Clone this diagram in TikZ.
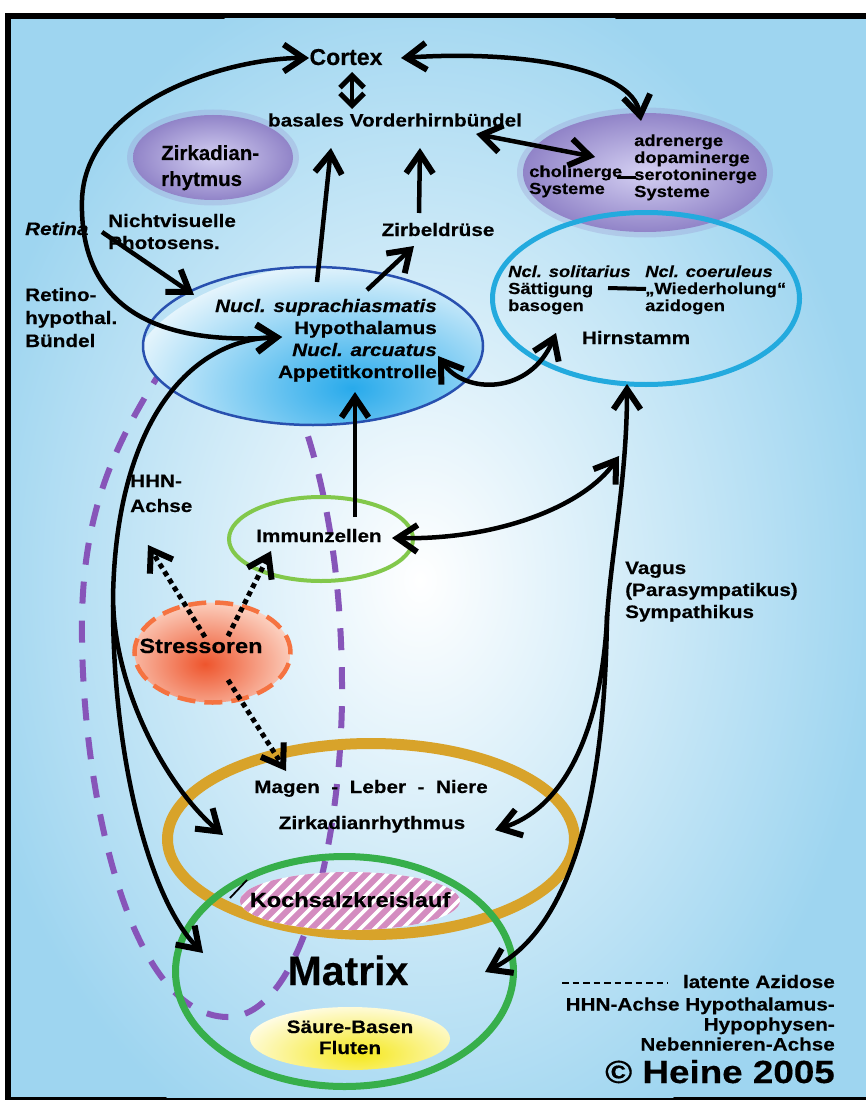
\documentclass[tikz,border=0pt]{standalone}
\usepackage{fontspec}
\setmainfont{Liberation Sans}
\newfontfamily\fw[FakeStretch=1.15,FakeBold=0.35]{Liberation Sans}
\newfontfamily\fn[FakeBold=0.35]{Liberation Sans}
\usetikzlibrary{arrows.meta,shapes.geometric}
\definecolor{bgblue}{RGB}{158,213,240}
\definecolor{zin}{RGB}{212,208,242}
\definecolor{zout}{RGB}{145,132,200}
\definecolor{scnin}{RGB}{40,170,235}
\definecolor{scnout}{RGB}{228,244,252}
\definecolor{scnline}{RGB}{40,80,175}
\definecolor{hirncol}{RGB}{35,170,222}
\definecolor{immcol}{RGB}{130,200,75}
\definecolor{stin}{RGB}{238,85,45}
\definecolor{stout}{RGB}{253,222,208}
\definecolor{stline}{RGB}{245,115,65}
\definecolor{goldcol}{RGB}{216,163,42}
\definecolor{matcol}{RGB}{55,175,75}
\definecolor{kstripe}{RGB}{212,140,192}
\definecolor{yin}{RGB}{245,232,30}
\definecolor{yout}{RGB}{255,252,228}
\definecolor{azcol}{RGB}{135,85,185}
\newcommand\lines[2][l]{\begin{tabular}[t]{@{}#1@{}}#2\end{tabular}}
\begin{document}
\begin{tikzpicture}[x=1pt,y=-1pt,
  bh/.tip={Straight Barb[length=20pt,width=27pt,line width=6pt]},
  sbh/.tip={Straight Barb[length=12pt,width=24pt,line width=5pt]},
  conn/.style={line width=4.5pt, draw=black},
  one/.style={conn, -bh},
  two/.style={conn, bh-bh},
  dotarr/.style={line width=5pt, draw=black, dash pattern=on 5pt off 4pt, -bh},
  lbl/.style={inner sep=0pt, font=\fw\bfseries\fontsize{18}{22}\selectfont},
  sml/.style={inner sep=0pt, font=\fw\bfseries\fontsize{16}{17}\selectfont},
  blob/.style={ellipse, inner sep=0pt, outer sep=0pt},
  azid/.style={draw=azcol, line width=6pt, dash pattern=on 22pt off 17pt}
]
\useasboundingbox (0,0) rectangle (866,1102);
% background and frame
\fill[white] (0,0) rectangle (866,1102);
\fill[black] (5,13) rectangle (866,1100);
\fill[bgblue] (11,19) rectangle (866,1097);
\begin{scope}
  \clip (11,19) rectangle (866,1097);
  \shade[inner color=white, outer color=bgblue] (420,580) ellipse [x radius=460pt, y radius=620pt];
\end{scope}

% purple blobs (soft halo + body)
\fill[zout, opacity=0.25] (213,157.5) ellipse [x radius=86pt, y radius=48pt];
\node[blob, minimum width=160pt, minimum height=85pt, shade, inner color=zin, outer color=zout] (zirkblob) at (213,157.5) {};
\fill[zout, opacity=0.25] (645,172.5) ellipse [x radius=128pt, y radius=65pt];
\node[blob, minimum width=244pt, minimum height=119pt, shade, inner color=zin, outer color=zout] (sysblob) at (645,172.5) {};

% latent acidosis (dashed loop)
\coordinate (az1) at (165,365);
\coordinate (az2) at (302,418);
\draw[azid] (az1) .. controls (110,450) and (80,520) .. (82,640)
  .. controls (84,800) and (130,1015) .. (227,1017)
  .. controls (300,1018) and (340,850) .. (342,700)
  .. controls (343,560) and (320,470) .. (az2);

% hypothalamus ellipse
\begin{scope}
  \clip (313,346) ellipse [x radius=170pt, y radius=79pt];
  \shade[inner color=scnin, outer color=scnout] (352,388) ellipse [x radius=225pt, y radius=125pt];
\end{scope}
\node[blob, minimum width=340pt, minimum height=158pt, draw=scnline, line width=2.5pt] (scn) at (313,346) {};

% Hirnstamm
\node[blob, minimum width=307pt, minimum height=172pt, draw=hirncol, line width=5pt] (hirn) at (646,298.5) {};
% Immunzellen
\node[blob, minimum width=184pt, minimum height=84pt, draw=immcol, line width=4pt] (imm) at (321,539) {};
% Stressoren
\begin{scope}
  \clip (212.5,652.5) ellipse [x radius=78pt, y radius=50pt];
  \shade[inner color=stin, outer color=stout] (205,664) ellipse [x radius=100pt, y radius=70pt];
\end{scope}
\node[blob, minimum width=156pt, minimum height=100pt, draw=stline, line width=4.5pt, dash pattern=on 18pt off 9pt] (stress) at (212.5,652.5) {};

% Magen ring and Matrix ring
\node[blob, minimum width=407pt, minimum height=191pt, draw=goldcol, line width=11pt] (magen) at (371,839) {};
\node[blob, minimum width=338pt, minimum height=230pt, draw=matcol, line width=7pt] (matrixring) at (344.5,971.5) {};

% Kochsalz hatched
\begin{scope}
  \clip (350,901) ellipse [x radius=110pt, y radius=29pt];
  \fill[white] (230,860) rectangle (470,940);
  \foreach \k in {0,...,26} \draw[kstripe, line width=6pt] (160+\k*14, 940) -- ++(80pt,80pt);
\end{scope}
\node[blob, minimum width=220pt, minimum height=58pt] (koch) at (350,901) {};

% Saeure-Basen
\begin{scope}
  \clip (350,1038.5) ellipse [x radius=100pt, y radius=31.5pt];
  \shade[inner color=yin, outer color=yout] (360,1054) ellipse [x radius=125pt, y radius=50pt];
\end{scope}
\node[blob, minimum width=200pt, minimum height=63pt] (saeure) at (350,1038.5) {};

% small bars and tick
\coordinate (cholE) at (617,178); \coordinate (seroW) at (636,178);
\draw[line width=3pt] (cholE) -- (seroW);
\coordinate (saetE) at (608,288); \coordinate (wiedW) at (646,289);
\draw[line width=4pt] (saetE) -- (wiedW);
\coordinate (tickA) at (230,898); \coordinate (tickB) at (247,880);
\draw[line width=1.8pt] (tickA) -- (tickB);
\coordinate (lgA) at (562,983); \coordinate (lgB) at (668,983);
\draw[line width=2.8pt, dash pattern=on 6.5pt off 4pt] (lgA) -- (lgB);

% ---------- connectors ----------
\coordinate (cxL) at (309,58);
\coordinate (cxR) at (401,58);
\coordinate (cxB) at (352,72);
\coordinate (bvbT) at (352,109);
\coordinate (bvbR) at (476,134);
\coordinate (sysT) at (641,121);
\coordinate (sysW) at (595,157);
\coordinate (bvbB1) at (331,148);
\coordinate (bvbB2) at (420,148);
\coordinate (scnN1) at (317,282);
\coordinate (scnN2) at (367,290);
\coordinate (zirbN) at (419,213);
\coordinate (zirbS) at (414,246);
\coordinate (retR) at (102,232);
\coordinate (scnNW) at (194,295);
\coordinate (scnW) at (282,337);
\coordinate (scnS) at (355,392);
\coordinate (scnE) at (438,356);
\coordinate (immN) at (355,517);
\coordinate (immE) at (392,538);
\coordinate (hirnSW) at (619,456);
\coordinate (hirnS) at (627,384);
\coordinate (hirnW) at (556,333);
\coordinate (magW) at (223,835);
\coordinate (magE) at (495,830);
\coordinate (magN) at (286,771);
\coordinate (matW) at (203,953);
\coordinate (matE) at (485,972);
\coordinate (split1) at (113,605);
\coordinate (split2) at (607,615);
\coordinate (stS1) at (205,637);
\coordinate (stS2) at (228,636);
\coordinate (stS3) at (228,680);
\coordinate (hhnS) at (148,545);
\coordinate (immSW) at (271,551);

\draw[two] (cxL) .. controls (230,58) and (85,100) .. (82,200) .. controls (79,310) and (160,345) .. (scnW);
\draw[two] (cxR) .. controls (520,50) and (632,68) .. (sysT);
\draw[conn, line width=4pt, sbh-sbh] (cxB) -- (bvbT);
\draw[two] (bvbR) -- (sysW);
\draw[one] (scnN1) -- (bvbB1);
\draw[one] (zirbN) -- (bvbB2);
\draw[one] (scnN2) -- (zirbS);
\draw[two] (scnW) .. controls (185,340) and (115,430) .. (113,600) .. controls (115,690) and (165,785) .. (magW);
\draw[one] (split1) .. controls (113,760) and (150,900) .. (matW);
\draw[one] (immN) -- (scnS);
\draw[two] (immE) .. controls (500,540) and (585,505) .. (hirnSW);
\draw[two] (hirnS) .. controls (627,480) and (610,560) .. (607,620) .. controls (600,740) and (560,810) .. (magE);
\draw[one] (split2) .. controls (605,800) and (570,930) .. (matE);
\draw[two] (scnE) .. controls (465,395) and (530,395) .. (hirnW);
\draw[dotarr] (stS1) -- (hhnS);
\draw[dotarr] (stS2) -- (immSW);
\draw[dotarr] (stS3) -- (magN);

% ---------- texts ----------
\node[inner sep=0pt, anchor=base, font=\fn\bfseries\fontsize{23}{26}\selectfont] (cortex) at (346,65) {Cortex};
\node[lbl, anchor=base] (bvb) at (395,126.5) {basales Vorderhirnbündel};
\node[inner sep=0pt, anchor=base west, font=\fn\bfseries\fontsize{20.5}{26}\selectfont] (zirktxt) at (161,160) {\lines{Zirkadian-\\rhytmus}};
\node[sml, anchor=base west] (systxt) at (634,146) {\lines{adrenerge\\dopaminerge\\serotoninerge\\Systeme}};
\node[sml, anchor=base west] (choltxt) at (529,177) {\lines{cholinerge\\Systeme}};
\node[lbl, anchor=base west] (retina) at (25,235) {\textit{Retina}};
\node[lbl, anchor=base west] (nvp) at (108,227) {\lines{Nichtvisuelle\\Photosens.}};
\node[inner sep=0pt, anchor=base west, font=\fw\bfseries\fontsize{18}{23}\selectfont] (rhb) at (25,301) {\lines{Retino-\\hypothal.\\Bündel}};
\node[lbl, anchor=base east] (scntxt) at (437,312) {\lines[r]{\textit{Nucl. suprachiasmatis}\\Hypothalamus\\\textit{Nucl. arcuatus}\\Appetitkontrolle}};
\node[lbl, anchor=base] (zirb) at (438,236) {Zirbeldrüse};
\node[sml, anchor=base west] (ncls) at (508,277) {\lines{\textit{Ncl. solitarius}\\Sättigung\\basogen}};
\node[sml, anchor=base west] (nclc) at (645,277) {\lines{\textit{Ncl. coeruleus}\\„Wiederholung“\\azidogen}};
\node[lbl, anchor=base] (hirntxt) at (636,344) {Hirnstamm};
\node[lbl, anchor=base west] (vagus) at (625,574) {\lines{Vagus\\(Parasympatikus)\\Sympathikus}};
\node[inner sep=0pt, anchor=base west, font=\fw\bfseries\fontsize{18}{25}\selectfont] (hhn) at (130,487) {\lines{HHN-\\Achse}};
\node[lbl, anchor=base] (immtxt) at (319,542) {Immunzellen};
\node[inner sep=0pt, anchor=base, font=\fw\bfseries\fontsize{20.5}{24}\selectfont] (sttxt) at (201,653) {Stressoren};
\node[lbl, anchor=base] (magtxt) at (371,793) {Magen\ \ -\ \ Leber\ \ -\ \ Niere};
\node[lbl, anchor=base] (zrtxt) at (372,829) {Zirkadianrhythmus};
\node[inner sep=0pt, anchor=base, font=\fw\bfseries\fontsize{20.5}{24}\selectfont] (kochtxt) at (350,907) {Kochsalzkreislauf};
\node[inner sep=0pt, anchor=base, font=\fn\bfseries\fontsize{41}{46}\selectfont] (matrix) at (348,985) {Matrix};
\node[inner sep=0pt, anchor=base, font=\fw\bfseries\fontsize{18}{21}\selectfont] (sbtxt) at (350,1033) {\lines[c]{Säure-Basen\\Fluten}};
\node[lbl, anchor=base east] (lg1) at (835,988) {latente Azidose};
\node[inner sep=0pt, anchor=base east, font=\fw\bfseries\fontsize{18}{20}\selectfont] (lg2) at (835,1010.5) {\lines[r]{HHN-Achse Hypothalamus-\\Hypophysen-\\Nebennieren-Achse}};
\node[inner sep=0pt, anchor=base east, font=\fw\bfseries\fontsize{32}{36}\selectfont] (heine) at (835,1083) {© Heine 2005};

% arrow drawn over its label
\draw[one] (retR) -- (scnNW);
\end{tikzpicture}
\end{document}
